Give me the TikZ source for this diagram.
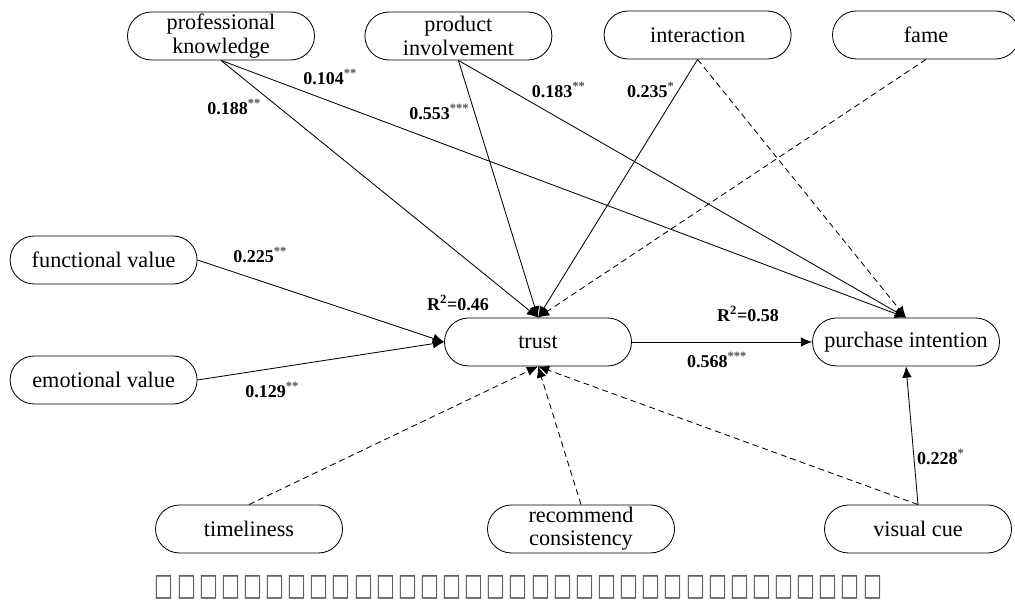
\documentclass[tikz,border=0pt]{standalone}
\usepackage{fontspec}
\setmainfont{Liberation Serif}
\newfontfamily\boxfont{DejaVu Sans}
\usetikzlibrary{arrows.meta, positioning}
\definecolor{starGrey}{RGB}{80, 80, 80}
\definecolor{boxGrey}{RGB}{95, 95, 95}
\newcommand{\coef}[2]{\textbf{#1}\textsuperscript{\textcolor{starGrey}{\textbf{#2}}}}

\begin{document}
\begin{tikzpicture}[
    % --- styles ---
    % 1. factor nodes
    factor/.style={draw=black, line width=0.6pt, rounded corners=0.6cm, minimum width=4.675cm, minimum height=1.2cm, inner sep=1pt, align=center, font=\fontsize{15.8}{16.5}\selectfont},
    % 2. arrows
    sigpath/.style={-{Latex[length=0.28cm, width=0.24cm]}, line width=0.6pt}, % significant path
    nspath/.style={sigpath, dashed, dash pattern=on 0.15cm off 0.1cm}, % non-significant path
    % 3. coefficient labels
    coeftext/.style={anchor=west, inner sep=0pt, font=\fontsize{12.8}{14}\selectfont}
]
\useasboundingbox (0, 0) rectangle (25.375, 15.1);

% === factors ===
\node[factor] (knowledge) at (5.525, 14.2) {professional\\knowledge};
\node[factor] (involvement) at (11.46, 14.2) {product\\involvement};
\node[factor] (interaction) at (17.44, 14.225) {interaction};
\node[factor] (fame) at (23.15, 14.225) {fame};

\node[factor] (functional) at (2.59, 8.6) {functional value};
\node[factor] (emotional) at (2.59, 5.6) {emotional value};
\node[factor] (trust) at (13.45, 6.55) {trust};
\node[factor] (intention) at (22.65, 6.55) {purchase intention};

\node[factor] (timeliness) at (6.225, 1.875) {timeliness};
\node[factor] (consistency) at (14.525, 1.875) {recommend\\consistency};
\node[factor] (visualcue) at (22.95, 1.875) {visual cue};

% === paths ===
\draw[sigpath] (knowledge.south) -- (trust.north);
\draw[sigpath] (knowledge.south) -- (intention.north);
\draw[sigpath] (involvement.south) -- (trust.north);
\draw[sigpath] (involvement.south) -- (intention.north);
\draw[sigpath] (interaction.south) -- (trust.north);
\draw[nspath] (interaction.south) -- (intention.north);
\draw[nspath] (fame.south) -- (trust.north);

\draw[sigpath] (functional.east) -- (trust.west);
\draw[sigpath] (emotional.east) -- (trust.west);
\draw[sigpath] (trust) -- (intention);

\draw[nspath] (timeliness.north) -- (trust.south);
\draw[nspath] (consistency.north) -- (trust.south);
\draw[nspath] (visualcue.north) -- (trust.south);
\draw[sigpath] (visualcue.north) -- (intention.south);

% === coefficients ===
\node[coeftext] (c_know_trust) at (5.175, 12.425) {\coef{0.188}{**}};
\node[coeftext] (c_know_int) at (7.575, 13.175) {\coef{0.104}{**}};
\node[coeftext] (c_inv_trust) at (10.225, 12.3) {\coef{0.553}{***}};
\node[coeftext] (c_inv_int) at (13.29, 12.85) {\coef{0.183}{**}};
\node[coeftext] (c_inter_trust) at (15.67, 12.85) {\coef{0.235}{*}};
\node[coeftext] (c_func) at (5.825, 8.725) {\coef{0.225}{**}};
\node[coeftext] (c_emo) at (6.125, 5.35) {\coef{0.129}{**}};
\node[coeftext] (c_trust) at (17.17, 6.1) {\coef{0.568}{***}};
\node[coeftext] (c_visual) at (22.92, 3.675) {\coef{0.228}{*}};
\node[coeftext] (r2_trust) at (10.67, 7.525) {\textbf{R\textsuperscript{2}=0.46}};
\node[coeftext] (r2_int) at (17.92, 7.25) {\textbf{R\textsuperscript{2}=0.58}};

% === caption ===
\node[inner sep=0pt, text=boxGrey, font=\boxfont] (caption) at (13.0, 0.425)
  {\resizebox{18.25cm}{0.5cm}{\foreach \k in {1,...,33}{□\kern0.16em}}};

\end{tikzpicture}
\end{document}
